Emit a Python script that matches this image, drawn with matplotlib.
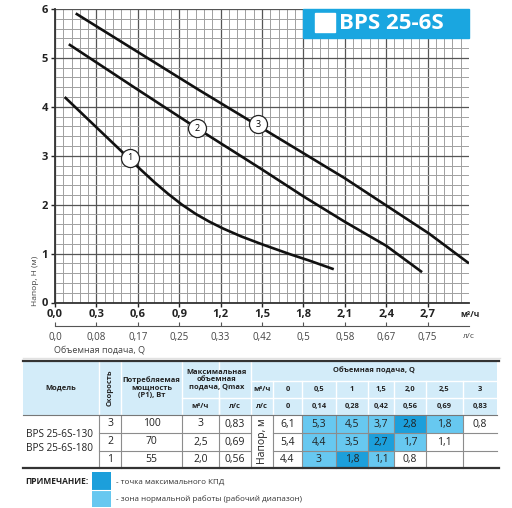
import matplotlib
matplotlib.use("Agg")
from matplotlib import pyplot as plt
from matplotlib.patches import Rectangle
import numpy as np

plt.rcParams["font.family"] = ["Open Sans", "DejaVu Sans"]

# pump curves: Q [m3/h], H [m]
q_speed1 = [0.07, 0.62, 0.72, 0.82, 0.92, 1.02, 1.12, 1.22, 1.35, 1.50, 1.70, 1.85, 2.02]
h_speed1 = [4.20, 2.72, 2.46, 2.22, 2.00, 1.81, 1.65, 1.51, 1.35, 1.19, 0.99, 0.85, 0.68]
q_speed2 = [0.10, 0.60, 1.03, 1.50, 1.80, 2.10, 2.40, 2.66]
h_speed2 = [5.28, 4.35, 3.56, 2.72, 2.17, 1.65, 1.16, 0.62]
q_speed3 = [0.15, 1.04, 2.10, 2.71, 3.00]
h_speed3 = [5.91, 4.35, 2.54, 1.41, 0.80]
curve_labels = ["1", "2", "3"]
label_q = [0.54, 1.03, 1.47]
label_h = [2.96, 3.56, 3.64]

q_ticks = [0.0, 0.3, 0.6, 0.9, 1.2, 1.5, 1.8, 2.1, 2.4, 2.7]
q_labels_m3h = ["0,0", "0,3", "0,6", "0,9", "1,2", "1,5", "1,8", "2,1", "2,4", "2,7"]
q_labels_ls = ["0,0", "0,08", "0,17", "0,25", "0,33", "0,42", "0,5", "0,58", "0,67", "0,75"]
h_ticks = [0, 1, 2, 3, 4, 5, 6]

# table
model_names = ["BPS 25-6S-130", "BPS 25-6S-180"]
speeds = ["3", "2", "1"]
power = ["100", "70", "55"]
qmax_m3h = ["3", "2,5", "2,0"]
qmax_ls = ["0,83", "0,69", "0,56"]
flow_m3h = ["0", "0,5", "1", "1,5", "2,0", "2,5", "3"]
flow_ls = ["0", "0,14", "0,28", "0,42", "0,56", "0,69", "0,83"]
head_rows = [
    ["6,1", "5,3", "4,5", "3,7", "2,8", "1,8", "0,8"],
    ["5,4", "4,4", "3,5", "2,7", "1,7", "1,1", ""],
    ["4,4", "3", "1,8", "1,1", "0,8", "", ""],
]
# 0 - plain, 1 - normal work zone, 2 - max efficiency point
zone_rows = [
    [0, 1, 1, 1, 2, 1, 0],
    [0, 1, 1, 2, 1, 0, 0],
    [0, 1, 2, 1, 0, 0, 0],
]

BLUE_TITLE = "#1aa6e0"
BLUE_DARK = "#1c9fdb"
BLUE_LIGHT = "#67c8f0"
HEAD_BG = "#d3ecf9"
W, H = 512, 508

fig = plt.figure(figsize=(W / 100, H / 100), dpi=100)

# ---- chart ----
ax = fig.add_axes([55 / W, 1 - 302.5 / H, 414 / W, 293.5 / H])
ax.set_xlim(0, 3.0)
ax.set_ylim(0, 6)
ax.set_xticks(q_ticks)
ax.set_xticklabels(q_labels_m3h)
ax.set_yticks(h_ticks)
ax.set_xticks(np.arange(0, 3.001, 0.06), minor=True)
ax.set_yticks(np.arange(0, 6.001, 0.2), minor=True)
ax.grid(which="minor", color="#a0a0a0", lw=0.7)
ax.grid(which="major", color="#555555", lw=0.9)
ax.tick_params(which="minor", length=0)
ax.tick_params(which="major", length=3, width=1, color="#222222", labelsize=8, pad=2)
for t in ax.get_xticklabels() + ax.get_yticklabels():
    t.set_fontweight("bold")
    t.set_color("#222222")
for side in ["top", "right"]:
    ax.spines[side].set_visible(False)
for side in ["left", "bottom"]:
    ax.spines[side].set_color("#333333")
    ax.spines[side].set_linewidth(1.3)
ax.set_axisbelow(True)

for q, h in [(q_speed1, h_speed1), (q_speed2, h_speed2), (q_speed3, h_speed3)]:
    ax.plot(q, h, color="#111111", lw=1.9, solid_capstyle="butt", solid_joinstyle="round", zorder=3)
for lab, q, h in zip(curve_labels, label_q, label_h):
    ax.plot(q, h, "o", ms=13, mfc="white", mec="#222222", mew=0.9, zorder=4)
    ax.text(q, h, lab, ha="center", va="center", fontsize=6.5, zorder=5)

# title box
ax.add_patch(Rectangle((1.8, 5.4), 1.2, 0.6, color=BLUE_TITLE, zorder=4, clip_on=False))
ax.add_patch(Rectangle((1.885, 5.54), 0.145, 0.38, color="white", zorder=5))
ax.text(2.06, 5.71, "BPS 25-6S", color="white", fontsize=16, fontweight="bold",
        ha="left", va="center", zorder=6)

ax.text(3.01, -0.24, "м³/ч", fontsize=6, fontweight="bold", color="#222222",
        ha="center", va="center", clip_on=False)
ax.text(-0.046, 0.075, "Напор, H (м)", rotation=90, fontsize=6, color="#444444",
        ha="center", va="center", transform=ax.transAxes)

# second scale in l/s
ax2 = fig.add_axes([55 / W, 1 - 326 / H, 414 / W, 0.0001])
ax2.set_xlim(0, 3.0)
ax2.set_xticks(q_ticks)
ax2.set_xticklabels(q_labels_ls)
ax2.set_yticks([])
ax2.patch.set_visible(False)
for side in ["top", "right", "left"]:
    ax2.spines[side].set_visible(False)
ax2.spines["bottom"].set_color("#555555")
ax2.tick_params(axis="x", direction="in", length=3, color="#555555", labelsize=7,
                labelcolor="#444444", pad=4)

# ---- table and notes (page coords in pixels) ----
tb = fig.add_axes([0, 0, 1, 1])
tb.set_xlim(0, W)
tb.set_ylim(H, 0)
tb.axis("off")

tb.text(469, 336, "л/с", fontsize=6, color="#444444", ha="center", va="center")
tb.text(54, 350, "Объемная подача, Q", fontsize=6.5, color="#444444", ha="left", va="center")
tb.plot([23, 500], [358, 358], color="#e2e2e2", lw=1)

cols = [23, 99, 121, 182, 219, 251, 273, 302, 336, 368, 394, 426, 463, 497]
y_top, y_r1, y_r2, y_head = 361, 381, 398, 415
rows = [415, 433, 451, 468]

tb.add_patch(Rectangle((cols[0], y_top), cols[-1] - cols[0], y_head - y_top, color=HEAD_BG, lw=0))

for i, zr in enumerate(zone_rows):
    for j, z in enumerate(zr):
        if z:
            c = BLUE_DARK if z == 2 else BLUE_LIGHT
            tb.add_patch(Rectangle((cols[6 + j], rows[i]), cols[7 + j] - cols[6 + j],
                                   rows[i + 1] - rows[i], color=c, lw=0))

# lines in header
hl = dict(color="white", lw=1)
for x in cols[1:6]:
    tb.plot([x, x], [y_top, y_head], **hl)
tb.plot([cols[3], cols[5]], [y_r2, y_r2], **hl)
tb.plot([cols[4], cols[4]], [y_r2, y_head], **hl)
tb.plot([cols[5], cols[-1]], [y_r1, y_r1], **hl)
tb.plot([cols[5], cols[-1]], [y_r2, y_r2], **hl)
for x in cols[6:-1]:
    tb.plot([x, x], [y_r1, y_head], **hl)

# lines in body
bl = dict(color="#8c8c8c", lw=0.8)
for x in cols[1:-1]:
    tb.plot([x, x], [y_head, rows[-1]], **bl)
for y in rows[1:-1]:
    tb.plot([cols[1], cols[5]], [y, y], **bl)
    tb.plot([cols[6], cols[-1]], [y, y], **bl)
tb.plot([cols[0], cols[-1]], [y_head, y_head], color="#777777", lw=0.8)
tb.plot([cols[0], cols[-1] + 2], [y_top, y_top], color="#333333", lw=1.6)
tb.plot([cols[0], cols[-1] + 2], [rows[-1], rows[-1]], color="#333333", lw=1.6)

hk = dict(fontsize=5.4, fontweight="bold", color="#222222", ha="center", va="center",
          linespacing=1.1)
mid = lambda a, b: (a + b) / 2
tb.text(mid(cols[0], cols[1]), mid(y_top, y_head), "Модель", **hk)
tb.text(mid(cols[1], cols[2]), mid(y_top, y_head), "Скорость", rotation=90, **hk)
tb.text(mid(cols[2], cols[3]), mid(y_top, y_head), "Потребляемая\nмощность\n(P1), Вт", **hk)
tb.text(mid(cols[3], cols[5]), mid(y_top, y_r2), "Максимальная\nобъемная\nподача, Qmax", **hk)
tb.text(mid(cols[3], cols[4]), mid(y_r2, y_head), "м³/ч", **hk)
tb.text(mid(cols[4], cols[5]), mid(y_r2, y_head), "л/с", **hk)
tb.text(mid(cols[5], cols[-1]), mid(y_top, y_r1), "Объемная подача, Q", **hk)
tb.text(mid(cols[5], cols[6]), mid(y_r1, y_r2), "м³/ч", **hk)
tb.text(mid(cols[5], cols[6]), mid(y_r2, y_head), "л/с", **hk)
for j in range(7):
    tb.text(mid(cols[6 + j], cols[7 + j]), mid(y_r1, y_r2), flow_m3h[j], **hk)
    tb.text(mid(cols[6 + j], cols[7 + j]), mid(y_r2, y_head), flow_ls[j], **hk)

bk = dict(fontsize=7.5, color="#222222", ha="center", va="center")
tb.text(26, mid(rows[0], rows[-1]), "\n".join(model_names), fontsize=7.2, color="#222222",
        ha="left", va="center", linespacing=1.3)
tb.text(mid(cols[5], cols[6]), mid(rows[0], rows[-1]), "Напор, м", rotation=90, **bk)
for i in range(3):
    yc = mid(rows[i], rows[i + 1])
    tb.text(mid(cols[1], cols[2]), yc, speeds[i], **bk)
    tb.text(mid(cols[2], cols[3]), yc, power[i], **bk)
    tb.text(mid(cols[3], cols[4]), yc, qmax_m3h[i], **bk)
    tb.text(mid(cols[4], cols[5]), yc, qmax_ls[i], **bk)
    for j in range(7):
        tb.text(mid(cols[6 + j], cols[7 + j]), yc, head_rows[i][j], **bk)

# legend note
tb.text(25, 482, "ПРИМЕЧАНИЕ:", fontsize=6, fontweight="bold", color="#222222",
        ha="left", va="center")
tb.add_patch(Rectangle((92, 472), 19, 18, color=BLUE_DARK, lw=0))
tb.add_patch(Rectangle((92, 490), 19, 17, color=BLUE_LIGHT, lw=0))
tb.plot([92, 111], [490, 490], color="white", lw=0.8)
tb.text(116, 482, "- точка максимального КПД", fontsize=5.8, color="#333333",
        ha="left", va="center")
tb.text(116, 499, "- зона нормальной работы (рабочий диапазон)", fontsize=5.8,
        color="#333333", ha="left", va="center")

fig.savefig("out.png", dpi=100)
